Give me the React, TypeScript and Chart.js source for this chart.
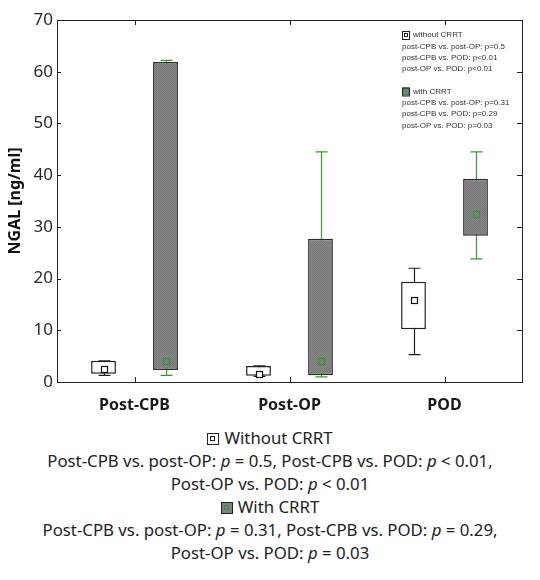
import React, { useEffect, useRef } from 'react';
import { Chart, registerables } from 'chart.js';

Chart.register(...registerables);

const categories = ['Post-CPB', 'Post-OP', 'POD'];
const seriesNames = ['without CRRT', 'with CRRT'];

const withoutMin = [1.3, 1.1, 5.3];
const withoutQ1 = [1.6, 1.2, 10.2];
const withoutQ3 = [4.1, 3.1, 19.4];
const withoutMax = [4.1, 3.1, 22.0];
const withoutMean = [2.6, 1.5, 15.9];

const withMin = [1.3, 1.0, 23.8];
const withQ1 = [2.3, 1.3, 28.3];
const withQ3 = [61.9, 27.7, 39.3];
const withMax = [62.2, 44.5, 44.5];
const withMean = [4.1, 4.0, 32.5];

const yMin = 0;
const yMax = 70;
const yStep = 10;
const yTitle = 'NGAL [ng/ml]';

const legendWithout = [
  'post-CPB vs. post-OP: p=0.5',
  'post-CPB vs. POD: p<0.01',
  'post-OP vs. POD: p<0.01',
];
const legendWith = [
  'post-CPB vs. post-OP: p=0.31',
  'post-CPB vs. POD: p=0.29',
  'post-OP vs. POD: p=0.03',
];

const GREEN = '#2f9a2f';
const FONT = '"Noto Sans", "Open Sans", sans-serif';

function IconWithout() {
  return (
    <span style={{ display: 'inline-block', width: 12, height: 12, border: '1.5px solid #222', boxSizing: 'border-box', position: 'relative', verticalAlign: '-1px', marginRight: 5, background: '#fff' }}>
      <span style={{ position: 'absolute', left: 2, top: 2, width: 5, height: 5, border: '1px solid #222', boxSizing: 'border-box' }} />
    </span>
  );
}
function IconWith() {
  return (
    <span style={{ display: 'inline-block', width: 12, height: 12, border: '1.5px solid #222', boxSizing: 'border-box', position: 'relative', verticalAlign: '-1px', marginRight: 5, background: '#7f7f7f' }}>
      <span style={{ position: 'absolute', left: 2, top: 2, width: 5, height: 5, border: '1px solid ' + GREEN, boxSizing: 'border-box' }} />
    </span>
  );
}

export default function App() {
  const ref = useRef<HTMLCanvasElement>(null);

  useEffect(() => {
    document.body.style.margin = '0';
    const canvas = ref.current!;
    const pc = document.createElement('canvas');
    pc.width = 2;
    pc.height = 2;
    const pctx = pc.getContext('2d')!;
    pctx.fillStyle = '#878787';
    pctx.fillRect(0, 0, 2, 2);
    pctx.fillStyle = '#777777';
    pctx.fillRect(0, 0, 1, 1);
    pctx.fillRect(1, 1, 1, 1);
    const pattern = canvas.getContext('2d')!.createPattern(pc, 'repeat')!;

    const mins = [withoutMin, withMin];
    const maxs = [withoutMax, withMax];
    const means = [withoutMean, withMean];
    const whiskerColors = ['#222', GREEN];

    const boxPlugin = {
      id: 'boxExtras',
      beforeDatasetsDraw(chart: any) {
        const ctx = chart.ctx;
        const ys = chart.scales.y;
        ctx.save();
        for (let d = 0; d < 2; d++) {
          const meta = chart.getDatasetMeta(d);
          ctx.strokeStyle = whiskerColors[d];
          ctx.lineWidth = 1.2;
          meta.data.forEach((el: any, i: number) => {
            const x = Math.round(el.x) + 0.5;
            const y0 = ys.getPixelForValue(mins[d][i]);
            const y1 = ys.getPixelForValue(maxs[d][i]);
            ctx.beginPath();
            ctx.moveTo(x, y0);
            ctx.lineTo(x, y1);
            ctx.moveTo(x - 6, y0);
            ctx.lineTo(x + 6, y0);
            ctx.moveTo(x - 6, y1);
            ctx.lineTo(x + 6, y1);
            ctx.stroke();
          });
        }
        ctx.restore();
      },
      afterDatasetsDraw(chart: any) {
        const ctx = chart.ctx;
        const ys = chart.scales.y;
        ctx.save();
        for (let d = 0; d < 2; d++) {
          const meta = chart.getDatasetMeta(d);
          ctx.strokeStyle = d === 0 ? '#111' : GREEN;
          ctx.lineWidth = 1.2;
          meta.data.forEach((el: any, i: number) => {
            const x = Math.round(el.x);
            const y = Math.round(ys.getPixelForValue(means[d][i]));
            if (d === 0) {
              ctx.fillStyle = '#fff';
              ctx.fillRect(x - 3, y - 3, 6, 6);
            }
            ctx.strokeRect(x - 2.5, y - 2.5, 6, 6);
          });
        }
        // frame
        const a = chart.chartArea;
        ctx.strokeStyle = '#222';
        ctx.lineWidth = 1;
        ctx.strokeRect(Math.round(a.left) + 0.5, Math.round(a.top) + 0.5, Math.round(a.right - a.left), Math.round(a.bottom - a.top));
        // inner ticks
        ctx.beginPath();
        ys.ticks.forEach((t: any) => {
          const y = Math.round(ys.getPixelForValue(t.value)) + 0.5;
          ctx.moveTo(a.left, y);
          ctx.lineTo(a.left + 4, y);
          ctx.moveTo(a.right - 5, y);
          ctx.lineTo(a.right, y);
        });
        const xs = chart.scales.x;
        categories.forEach((_, i) => {
          const x = Math.round(xs.getPixelForValue(i)) + 0.5;
          ctx.moveTo(x, a.bottom);
          ctx.lineTo(x, a.bottom - 5);
          ctx.moveTo(x, a.top);
          ctx.lineTo(x, a.top + 5);
        });
        ctx.stroke();
        // legend
        ctx.font = '8px "Liberation Sans", Arial, sans-serif';
        ctx.fillStyle = '#333';
        ctx.textBaseline = 'middle';
        const lx = 402;
        const lh = 11.3;
        let ly = 35;
        const drawIcon = (y: number, withFill: boolean) => {
          ctx.fillStyle = withFill ? '#6f6f6f' : '#fff';
          ctx.fillRect(lx, y - 4, 7, 8);
          ctx.strokeStyle = '#222';
          ctx.lineWidth = 1;
          ctx.strokeRect(lx + 0.5, y - 3.5, 7, 8);
          ctx.strokeStyle = withFill ? '#3ec03e' : '#222';
          ctx.strokeRect(lx + 2.5, y - 1.5, 3, 3);
          ctx.fillStyle = '#333';
        };
        drawIcon(ly, false);
        ctx.fillText(seriesNames[0], lx + 11, ly);
        legendWithout.forEach((t) => {
          ly += lh;
          ctx.fillText(t, lx, ly);
        });
        ly += lh * 2;
        drawIcon(ly, true);
        ctx.fillText(seriesNames[1], lx + 11, ly);
        legendWith.forEach((t) => {
          ly += lh;
          ctx.fillText(t, lx, ly);
        });
        ctx.restore();
      },
    };

    const chart = new Chart(canvas, {
      type: 'bar',
      data: {
        labels: categories,
        datasets: [
          {
            label: seriesNames[0],
            data: categories.map((_, i) => [withoutQ1[i], withoutQ3[i]]) as any,
            backgroundColor: '#ffffff',
            borderColor: '#222',
            borderWidth: 1.5,
            borderSkipped: false,
            barPercentage: 0.4,
            categoryPercentage: 0.8,
          },
          {
            label: seriesNames[1],
            data: categories.map((_, i) => [withQ1[i], withQ3[i]]) as any,
            backgroundColor: pattern as any,
            borderColor: '#2a2a2a',
            borderWidth: 1.5,
            borderSkipped: false,
            barPercentage: 0.4,
            categoryPercentage: 0.8,
          },
        ],
      },
      options: {
        responsive: false,
        animation: false,
        layout: { padding: { left: 0, top: 20, right: 18, bottom: 0 } },
        plugins: { legend: { display: false }, tooltip: { enabled: false } },
        scales: {
          x: {
            grid: { display: false },
            border: { display: false },
            ticks: { color: '#1a1a1a', padding: 6, font: { family: FONT, size: 16, weight: 'bold' } },
            afterFit: (s: any) => { s.height = 38; },
          },
          y: {
            min: yMin,
            max: yMax,
            grid: { display: false, drawTicks: false },
            border: { display: false },
            ticks: { stepSize: yStep, color: '#2a2a2a', padding: 4, font: { family: FONT, size: 17 } },
            title: { display: true, text: yTitle, color: '#111', padding: { top: 6, bottom: 0 }, font: { family: FONT, size: 16, weight: 'bold' } },
            afterFit: (s: any) => { s.width = 57; },
          },
        },
      },
      plugins: [boxPlugin],
    });
    return () => chart.destroy();
  }, []);

  const pi = <i>p</i>;
  return (
    <div style={{ width: 540, fontFamily: FONT }}>
      <canvas ref={ref} width={540} height={420} style={{ display: 'block' }} />
      <div style={{ marginTop: 6, textAlign: 'center', fontSize: 16.8, lineHeight: '23px', color: '#222' }}>
        <div><IconWithout />Without CRRT</div>
        <div>Post-CPB vs. post-OP: {pi} = 0.5, Post-CPB vs. POD: {pi} &lt; 0.01,</div>
        <div>Post-OP vs. POD: {pi} &lt; 0.01</div>
        <div><IconWith />With CRRT</div>
        <div>Post-CPB vs. post-OP: {pi} = 0.31, Post-CPB vs. POD: {pi} = 0.29,</div>
        <div>Post-OP vs. POD: {pi} = 0.03</div>
      </div>
    </div>
  );
}
